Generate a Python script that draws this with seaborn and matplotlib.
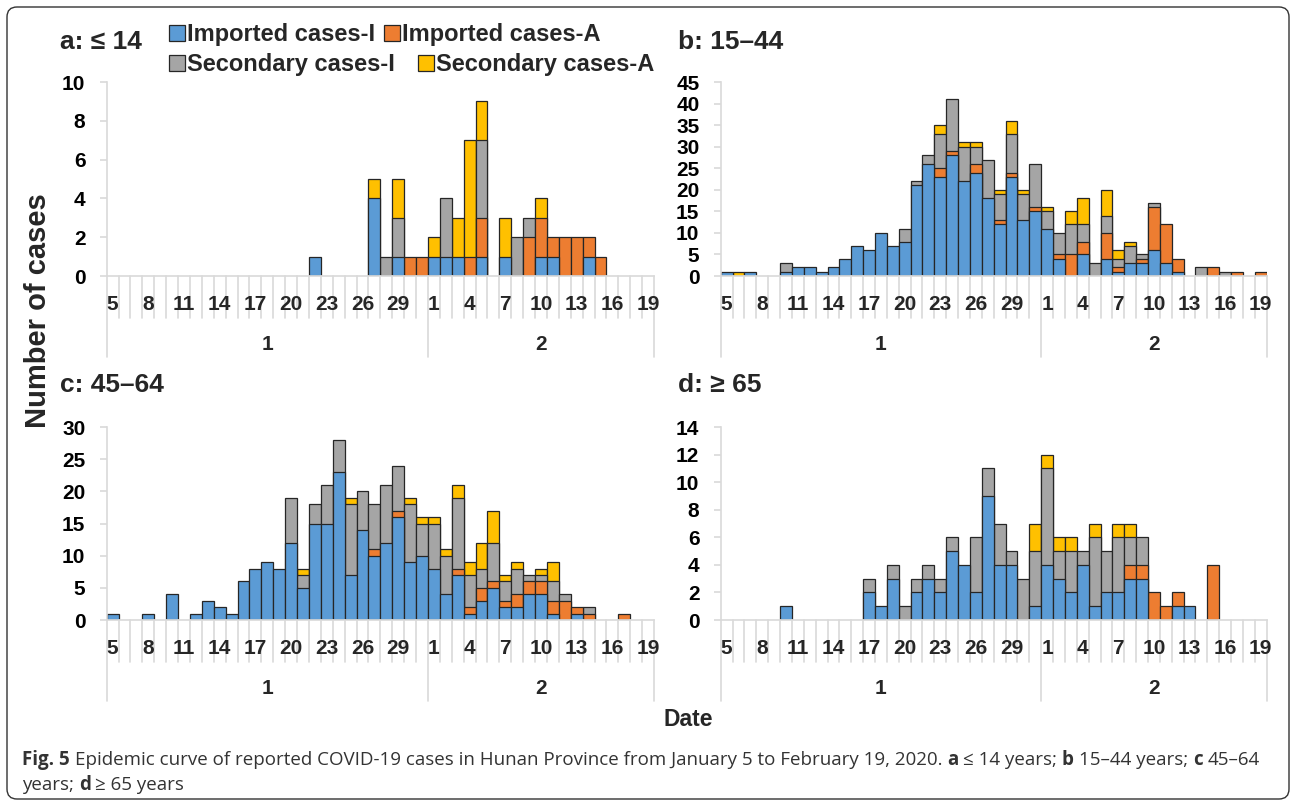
import numpy as np
import pandas as pd
import seaborn as sns
import matplotlib
matplotlib.use('Agg')
import matplotlib.pyplot as plt
from matplotlib.patches import Patch, FancyBboxPatch
from matplotlib.transforms import ScaledTranslation

# dates: Jan 5..31 then Feb 1..19 (46 days)
days = list(range(5, 32)) + list(range(1, 20))
months = ['1', '2']
series = ['Imported cases-I', 'Imported cases-A', 'Secondary cases-I', 'Secondary cases-A']
colors = ['#5B9BD5', '#ED7D31', '#A5A5A5', '#FFC000']

# panel a: <= 14
a_imp_i = [0,0,0,0,0, 0,0,0,0,0, 0,0,0,0,0, 0,0,1,0,0, 0,0,4,0,1, 0,0,
           1,1,1,0,1, 0,1,0,0,1, 1,0,0,1,0, 0,0,0,0]
a_imp_a = [0,0,0,0,0, 0,0,0,0,0, 0,0,0,0,0, 0,0,0,0,0, 0,0,0,0,0, 1,1,
           0,0,0,1,2, 0,0,0,2,2, 1,2,2,1,1, 0,0,0,0]
a_sec_i = [0,0,0,0,0, 0,0,0,0,0, 0,0,0,0,0, 0,0,0,0,0, 0,0,0,1,2, 0,0,
           0,3,0,0,4, 0,0,2,1,0, 0,0,0,0,0, 0,0,0,0]
a_sec_a = [0,0,0,0,0, 0,0,0,0,0, 0,0,0,0,0, 0,0,0,0,0, 0,0,1,0,2, 0,0,
           1,0,2,6,2, 0,2,0,0,1, 0,0,0,0,0, 0,0,0,0]

# panel b: 15-44
b_imp_i = [1,0,1,0,0, 1,2,2,1,2, 4,7,6,10,7, 8,21,26,23,28, 22,24,18,12,23, 13,15,
           11,4,0,5,0, 4,1,3,3,6, 3,1,0,0,0, 0,0,0,0]
b_imp_a = [0,0,0,0,0, 0,0,0,0,0, 0,0,0,0,0, 0,0,0,2,1, 0,2,0,1,1, 0,1,
           0,1,5,3,0, 6,1,0,1,10, 9,3,0,0,2, 0,1,0,1]
b_sec_i = [0,0,0,0,0, 2,0,0,0,0, 0,0,0,0,0, 3,1,2,8,12, 8,4,9,6,9, 6,10,
           4,5,7,4,3, 4,2,4,1,1, 0,0,0,2,0, 1,0,0,0]
b_sec_a = [0,1,0,0,0, 0,0,0,0,0, 0,0,0,0,0, 0,0,0,2,0, 1,1,0,1,3, 1,0,
           1,0,3,6,0, 6,2,1,0,0, 0,0,0,0,0, 0,0,0,0]

# panel c: 45-64
c_imp_i = [1,0,0,1,0, 4,0,1,3,2, 1,6,8,9,8, 12,5,15,15,23, 7,14,10,12,16, 9,10,
           8,4,7,1,3, 5,2,2,4,4, 1,0,1,0,0, 0,0,0,0]
c_imp_a = [0,0,0,0,0, 0,0,0,0,0, 0,0,0,0,0, 0,0,0,0,0, 0,0,1,0,1, 0,0,
           0,0,1,1,2, 1,1,2,2,2, 2,3,1,1,0, 0,1,0,0]
c_sec_i = [0,0,0,0,0, 0,0,0,0,0, 0,0,0,0,0, 7,2,3,6,5, 11,6,7,9,7, 9,5,
           7,6,11,5,3, 6,3,4,1,1, 3,1,0,1,0, 0,0,0,0]
c_sec_a = [0,0,0,0,0, 0,0,0,0,0, 0,0,0,0,0, 0,1,0,0,0, 1,0,0,0,0, 1,1,
           1,1,2,2,4, 5,1,1,0,1, 3,0,0,0,0, 0,0,0,0]

# panel d: >= 65
d_imp_i = [0,0,0,0,0, 1,0,0,0,0, 0,0,2,1,3, 0,2,3,2,5, 4,2,9,4,4, 0,1,
           4,3,2,4,1, 2,2,3,3,0, 0,1,1,0,0, 0,0,0,0]
d_imp_a = [0,0,0,0,0, 0,0,0,0,0, 0,0,0,0,0, 0,0,0,0,0, 0,0,0,0,0, 0,0,
           0,0,0,0,0, 0,0,1,1,2, 1,1,0,0,4, 0,0,0,0]
d_sec_i = [0,0,0,0,0, 0,0,0,0,0, 0,0,1,0,1, 1,1,1,1,1, 0,4,2,3,1, 3,4,
           7,2,3,1,5, 3,4,2,2,0, 0,0,0,0,0, 0,0,0,0]
d_sec_a = [0,0,0,0,0, 0,0,0,0,0, 0,0,0,0,0, 0,0,0,0,0, 0,0,0,0,0, 0,2,
           1,1,1,0,1, 0,1,1,0,0, 0,0,0,0,0, 0,0,0,0]

sns.set_style('white')
plt.rcParams['font.family'] = ['Liberation Sans', 'DejaVu Sans']
plt.rcParams['font.weight'] = 'bold'

W, H = 1295, 806
fig = plt.figure(figsize=(W / 100, H / 100), dpi=100)


def px_rect(l, t, r, b):
    return [l / W, 1 - b / H, (r - l) / W, (b - t) / H]


def down(ax, px):
    # x in data units, y = the axis line moved down by px pixels
    return ax.get_xaxis_transform() + ScaledTranslation(0, -px / 100, fig.dpi_scale_trans)


panels = [
    ('a: ≤ 14', [a_imp_i, a_imp_a, a_sec_i, a_sec_a], 10, 2, (106.7, 82, 654, 276), (60, 42)),
    ('b: 15–44', [b_imp_i, b_imp_a, b_sec_i, b_sec_a], 45, 5, (720.7, 82, 1266.7, 276), (678, 42)),
    ('c: 45–64', [c_imp_i, c_imp_a, c_sec_i, c_sec_a], 30, 5, (106.7, 427, 654, 620), (60, 385)),
    ('d: ≥ 65', [d_imp_i, d_imp_a, d_sec_i, d_sec_a], 14, 2, (720.7, 427, 1266.7, 620), (678, 385)),
]

grid_c = '#d9d9d9'
n = len(days)
for title, vals, ymax, step, box, tpos in panels:
    ax = fig.add_axes(px_rect(*box))
    df = pd.DataFrame({'day': range(n)})
    for name, v in zip(series, vals):
        df[name] = v
    cum = df[series].cumsum(axis=1)
    # stacked bars: draw cumulative totals from the top layer down
    for name, col in reversed(list(zip(series, colors))):
        h = cum[name].where(df[name] > 0)
        sns.barplot(x=df['day'], y=h, order=list(range(n)), color=col, saturation=1,
                    width=1.0, edgecolor='#262626', linewidth=0.9, errorbar=None, ax=ax)
    ax.set_xlim(-0.5, n - 0.5)
    ax.set_ylim(0, ymax)
    ax.set_yticks(range(0, ymax + 1, step))
    ax.set_xticks([])
    ax.set_xlabel('')
    ax.set_ylabel('')
    for s in ['top', 'right']:
        ax.spines[s].set_visible(False)
    for s in ['left', 'bottom']:
        ax.spines[s].set_color(grid_c)
        ax.spines[s].set_linewidth(1.2)
    ax.tick_params(axis='y', left=True, color=grid_c, length=5.3, width=1.2,
                   labelsize=15, pad=10, labelcolor='black')
    for lb in ax.get_yticklabels():
        lb.set_fontweight('bold')

    # multi-level category axis (days / months)
    axis_h = box[3] - box[1]
    for i in range(n + 1):
        x = i - 0.5
        L = 81 if i in (0, 27, n) else 42
        ax.plot([x, x], [0, -L / axis_h], transform=ax.get_xaxis_transform(),
                color=grid_c, lw=1.2, clip_on=False)
    for i in range(0, n, 3):
        ax.text(i, 0, str(days[i]), transform=down(ax, 29), ha='center', va='center',
                fontsize=15, fontweight='bold')
    ax.text(13, 0, months[0], transform=down(ax, 69), ha='center', va='center',
            fontsize=15, fontweight='bold')
    ax.text(36, 0, months[1], transform=down(ax, 69), ha='center', va='center',
            fontsize=15, fontweight='bold')

    fig.text(tpos[0] / W, 1 - tpos[1] / H, title, ha='left', va='center',
             fontsize=19, fontweight='bold')

# legend: two rows, each row flows on its own
handles = [Patch(facecolor=c, edgecolor='#262626', linewidth=0.9) for c in colors]
leg_kw = dict(loc='center left', ncol=2, frameon=False, prop={'size': 17, 'weight': 'bold'},
              handlelength=0.68, handleheight=0.68, handletextpad=0.1, borderpad=0,
              borderaxespad=0)
fig.legend(handles[:2], series[:2], bbox_to_anchor=(169 / W, 1 - 35 / H),
           columnspacing=0.34, **leg_kw)
fig.legend(handles[2:], series[2:], bbox_to_anchor=(169 / W, 1 - 65 / H),
           columnspacing=0.95, **leg_kw)

fig.text(38 / W, 1 - 311 / H, 'Number of cases', rotation=90, ha='center', va='center',
         fontsize=21, fontweight='bold')
fig.text(688 / W, 1 - 720 / H, 'Date', ha='center', va='center', fontsize=16.5,
         fontweight='bold')

# caption with bold run-ins
cap_font = ['Open Sans', 'DejaVu Sans']
cap_size = 13.5
cap_lines = [
    [('Fig. 5', 'bold'),
     ('Epidemic curve of reported COVID-19 cases in Hunan Province from January 5 to February 19, 2020.', 'normal'),
     ('a', 'bold'), ('≤ 14 years;', 'normal'), ('b', 'bold'), ('15–44 years;', 'normal'),
     ('c', 'bold'), ('45–64', 'normal')],
    [('years;', 'normal'), ('d', 'bold'), ('≥ 65 years', 'normal')],
]
renderer = fig.canvas.get_renderer()


def tw(s, wt):
    t = fig.text(0, 0, s, fontsize=cap_size, family=cap_font, fontweight=wt)
    w = t.get_window_extent(renderer).width
    t.remove()
    return w


space = tw('x x', 'normal') - tw('xx', 'normal')
for li, runs in enumerate(cap_lines):
    x = 22
    y = 760 + li * 25
    for s, wt in runs:
        t = fig.text(x / W, 1 - y / H, s, fontsize=cap_size, family=cap_font, fontweight=wt,
                     color='#333333', ha='left', va='center')
        x += t.get_window_extent(renderer).width + space

fig.patches.append(FancyBboxPatch((7 / 100, 7 / 100), 1282 / 100, 792 / 100,
                                  boxstyle='round,pad=0,rounding_size=0.1',
                                  transform=fig.dpi_scale_trans, fill=False,
                                  edgecolor='#333333', linewidth=1.0))

fig.savefig('out.png', dpi=100)
